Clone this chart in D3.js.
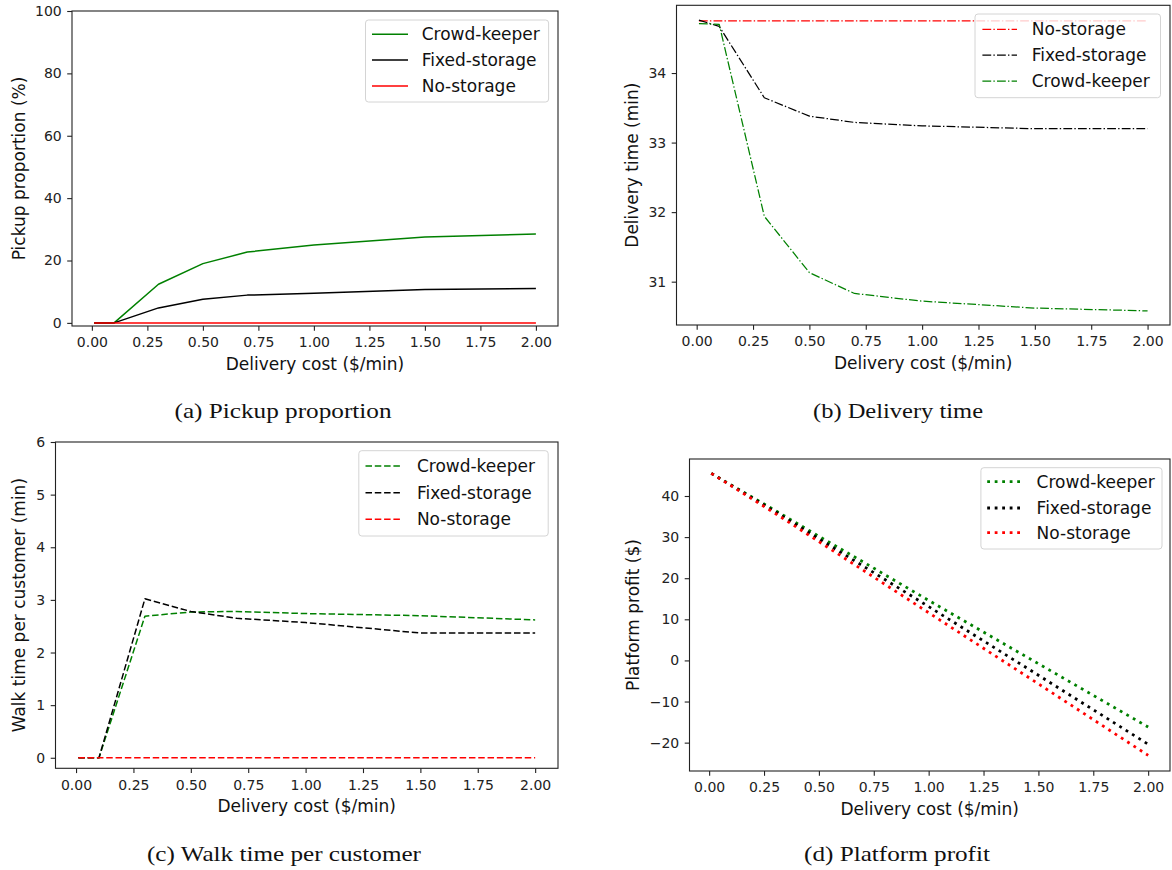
<!DOCTYPE html>
<html>
<head>
<meta charset="utf-8">
<script src="https://cdn.jsdelivr.net/npm/d3@7"></script>
<style>
  body { margin: 0; background: #fff; }
  svg { display: block; }
</style>
</head>
<body>
<div id="chart-area"></div>
<script>
// ---- data ----
var cost = [0.01, 0.1, 0.3, 0.5, 0.7, 1.0, 1.5, 2.0];

var pickupCrowd = [0, 0, 12.4, 19.0, 22.7, 25.0, 27.5, 28.5];
var pickupFixed = [0, 0, 4.8, 7.6, 8.9, 9.5, 10.7, 11.0];
var pickupNo    = [0, 0, 0, 0, 0, 0, 0, 0];

var timeNo    = [34.75, 34.75, 34.75, 34.75, 34.75, 34.75, 34.75, 34.75];
var timeFixed = [34.76, 34.67, 33.645, 33.38, 33.29, 33.24, 33.20, 33.20];
var timeCrowd = [34.71, 34.70, 31.94, 31.13, 30.83, 30.72, 30.62, 30.58];

var walkCrowd = [0, 0, 2.69, 2.77, 2.78, 2.74, 2.70, 2.62];
var walkFixed = [0, 0, 3.02, 2.78, 2.65, 2.57, 2.37, 2.37];
var walkNo    = [0, 0, 0, 0, 0, 0, 0, 0];

var profitCrowd = [45.5, 42.7, 36.5, 30.2, 24.0, 14.6, -0.8, -16.2];
var profitFixed = [45.5, 42.6, 36.2, 29.6, 23.0, 13.1, -3.6, -20.4];
var profitNo    = [45.5, 42.5, 35.8, 28.9, 22.0, 11.6, -5.7, -23.1];

var costTicks   = [0, 0.25, 0.5, 0.75, 1.0, 1.25, 1.5, 1.75, 2.0];
var pickupTicks = [0, 20, 40, 60, 80, 100];
var timeTicks   = [31, 32, 33, 34];
var walkTicks   = [0, 1, 2, 3, 4, 5, 6];
var profitTicks = [-20, -10, 0, 10, 20, 30, 40];

// ---- styles ----
var sans = "'DejaVu Sans', sans-serif";
var serif = "'Liberation Serif', 'DejaVu Serif', serif";
var colors = { crowd: "#008000", fixed: "#000000", none: "#ff0000" };

var svg = d3.select("#chart-area")
            .append("svg")
            .attr("width", 1172)
            .attr("height", 870);

var panels = [
  {
    box: { left: 72, right: 558, top: 11, bottom: 326 },
    yDomain: [-1, 100], yTicks: pickupTicks, yFormat: d3.format("d"),
    yLabel: "Pickup proportion (%)", yLabelX: 18.5,
    caption: "(a) Pickup proportion", captionX: 283, captionY: 418, captionW: 217,
    width: 1.5, dash: null,
    series: [
      { name: "Crowd-keeper", values: pickupCrowd, color: colors.crowd },
      { name: "Fixed-storage", values: pickupFixed, color: colors.fixed },
      { name: "No-storage", values: pickupNo, color: colors.none }
    ],
    legend: { x0: 365.5, x1: 548.6, y0: 20, y1: 102, hx0: 372, hx1: 408, tx: 421.7, rows: [34.3, 60, 86] }
  },
  {
    box: { left: 676.5, right: 1170, top: 5.3, bottom: 325 },
    yDomain: [30.377, 34.974], yTicks: timeTicks, yFormat: d3.format("d"),
    yLabel: "Delivery time (min)", yLabelX: 632,
    caption: "(b) Delivery time", captionX: 898, captionY: 418, captionW: 170,
    width: 1.25, dash: "8.8,2.2,1.4,2.2",
    series: [
      { name: "No-storage", values: timeNo, color: colors.none },
      { name: "Fixed-storage", values: timeFixed, color: colors.fixed },
      { name: "Crowd-keeper", values: timeCrowd, color: colors.crowd }
    ],
    legend: { x0: 975, x1: 1160.5, y0: 14, y1: 97.7, hx0: 982.4, hx1: 1017, tx: 1031.7, rows: [29.3, 55, 81] }
  },
  {
    box: { left: 55.5, right: 558, top: 442, bottom: 768.3 },
    yDomain: [-0.2, 6.0], yTicks: walkTicks, yFormat: d3.format("d"),
    yLabel: "Walk time per customer (min)", yLabelX: 19,
    caption: "(c) Walk time per customer", captionX: 284, captionY: 861, captionW: 274,
    width: 1.5, dash: "6.5,2.8",
    series: [
      { name: "Crowd-keeper", values: walkCrowd, color: colors.crowd },
      { name: "Fixed-storage", values: walkFixed, color: colors.fixed },
      { name: "No-storage", values: walkNo, color: colors.none }
    ],
    legend: { x0: 358.8, x1: 548.2, y0: 450.7, y1: 536, hx0: 365.5, hx1: 402.5, tx: 416.9, rows: [466, 492.7, 519.3] }
  },
  {
    box: { left: 689.5, right: 1170, top: 459, bottom: 771 },
    yDomain: [-26.9, 49.0], yTicks: profitTicks, yFormat: d3.format("d"),
    yLabel: "Platform profit ($)", yLabelX: 633,
    caption: "(d) Platform profit", captionX: 897, captionY: 861, captionW: 186,
    width: 2.8, dash: "2.8,4.7",
    series: [
      { name: "Crowd-keeper", values: profitCrowd, color: colors.crowd },
      { name: "Fixed-storage", values: profitFixed, color: colors.fixed },
      { name: "No-storage", values: profitNo, color: colors.none }
    ],
    legend: { x0: 980.9, x1: 1162, y0: 467.7, y1: 549, hx0: 987.2, hx1: 1021.3, tx: 1036.6, rows: [481.7, 508, 532.7] }
  }
];

panels.forEach(drawPanel);

function drawPanel(p) {
  var b = p.box;
  var x = d3.scaleLinear().domain([-0.0895, 2.0995]).range([b.left, b.right]);
  var y = d3.scaleLinear().domain(p.yDomain).range([b.bottom, b.top]);

  var g = svg.append("g");

  // axes
  var xAxis = d3.axisBottom(x)
                .tickValues(costTicks)
                .tickFormat(d3.format(".2f"))
                .tickSize(4.8)
                .tickPadding(6.5);
  var yAxis = d3.axisLeft(y)
                .tickValues(p.yTicks)
                .tickFormat(p.yFormat)
                .tickSize(4.8)
                .tickPadding(5.5);

  var xg = g.append("g").attr("transform", "translate(0," + b.bottom + ")").call(xAxis);
  var yg = g.append("g").attr("transform", "translate(" + b.left + ",0)").call(yAxis);

  [xg, yg].forEach(function(a) {
    a.select(".domain").remove();
    a.attr("font-family", sans).attr("font-size", 14);
    a.selectAll("line").attr("stroke", "#222").attr("stroke-width", 1.1);
    a.selectAll("text").attr("fill", "#222");
  });

  // lines
  var line = d3.line()
               .x(function(d, i) { return x(cost[i]); })
               .y(function(d) { return y(d); });

  p.series.forEach(function(s) {
    g.append("path")
     .attr("d", line(s.values))
     .attr("fill", "none")
     .attr("stroke", s.color)
     .attr("stroke-width", p.width)
     .attr("stroke-dasharray", p.dash)
     .attr("stroke-linejoin", "round");
  });

  // frame
  g.append("rect")
   .attr("x", b.left)
   .attr("y", b.top)
   .attr("width", b.right - b.left)
   .attr("height", b.bottom - b.top)
   .attr("fill", "none")
   .attr("stroke", "#222")
   .attr("stroke-width", 1.1);

  // legend
  var L = p.legend;
  g.append("rect")
   .attr("x", L.x0)
   .attr("y", L.y0)
   .attr("width", L.x1 - L.x0)
   .attr("height", L.y1 - L.y0)
   .attr("rx", 3)
   .attr("fill", "#fff")
   .attr("fill-opacity", 0.8)
   .attr("stroke", "#d4d4d4")
   .attr("stroke-width", 1);

  p.series.forEach(function(s, i) {
    g.append("line")
     .attr("x1", L.hx0).attr("x2", L.hx1)
     .attr("y1", L.rows[i]).attr("y2", L.rows[i])
     .attr("stroke", s.color)
     .attr("stroke-width", p.width)
     .attr("stroke-dasharray", p.dash);
    g.append("text")
     .attr("x", L.tx)
     .attr("y", L.rows[i])
     .attr("dy", "0.36em")
     .attr("font-family", sans)
     .attr("font-size", 17)
     .attr("fill", "#111")
     .text(s.name);
  });

  // axis labels
  g.append("text")
   .attr("x", (b.left + b.right) / 2)
   .attr("y", b.bottom + 44)
   .attr("text-anchor", "middle")
   .attr("font-family", sans)
   .attr("font-size", 17)
   .attr("fill", "#111")
   .text("Delivery cost ($/min)");

  g.append("text")
   .attr("transform", "translate(" + p.yLabelX + "," + ((b.top + b.bottom) / 2) + ") rotate(-90)")
   .attr("dy", "0.36em")
   .attr("text-anchor", "middle")
   .attr("font-family", sans)
   .attr("font-size", 17)
   .attr("fill", "#111")
   .text(p.yLabel);

  // caption
  svg.append("text")
     .attr("x", p.captionX)
     .attr("y", p.captionY)
     .attr("text-anchor", "middle")
     .attr("font-family", serif)
     .attr("font-size", 21)
     .attr("textLength", p.captionW)
     .attr("lengthAdjust", "spacingAndGlyphs")
     .attr("fill", "#111")
     .text(p.caption);
}
</script>
</body>
</html>
